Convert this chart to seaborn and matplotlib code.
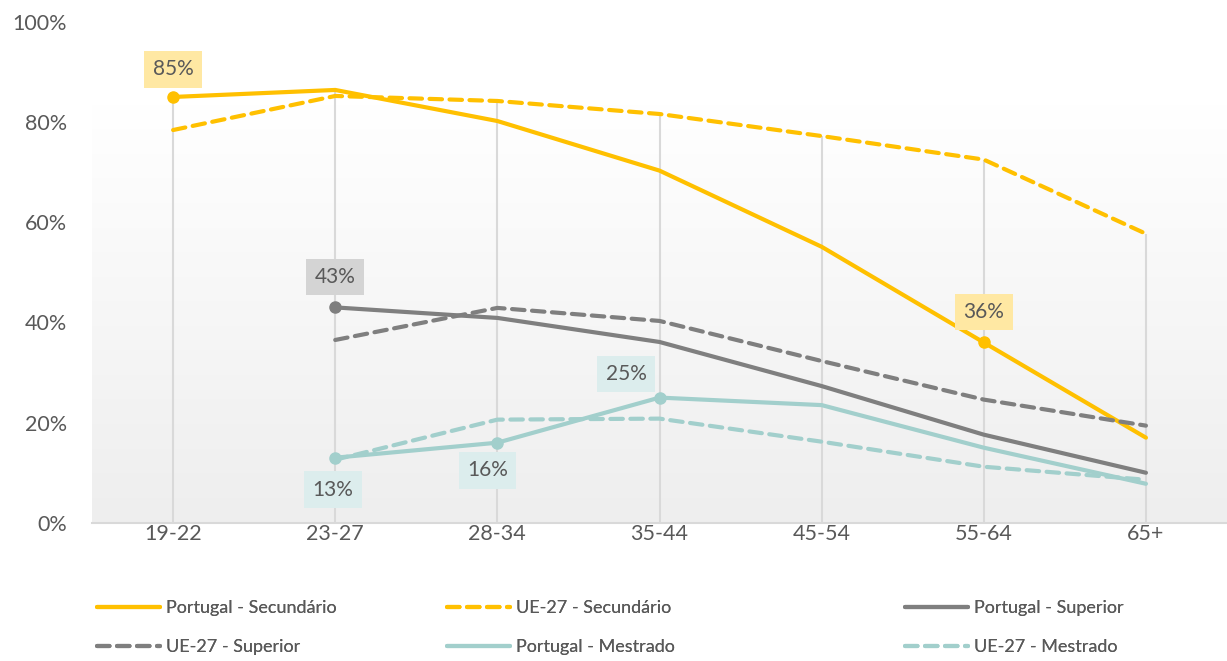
import numpy as np
import pandas as pd
import matplotlib
matplotlib.use("Agg")
import matplotlib.pyplot as plt
import seaborn as sns

# Dados
faixas = ['19-22', '23-27', '28-34', '35-44', '45-54', '55-64', '65+']
pt_secundario = [85, 86.4, 80.2, 70.3, 55.1, 36, 17.0]
ue_secundario = [78.4, 85.2, 84.2, 81.6, 77.2, 72.5, 57.7]
pt_superior = [np.nan, 43, 40.9, 36.1, 27.3, 17.6, 10.0]
ue_superior = [np.nan, 36.5, 42.9, 40.3, 32.3, 24.6, 19.4]
pt_mestrado = [np.nan, 13, 16, 25, 23.5, 15.0, 7.8]
ue_mestrado = [np.nan, 12.6, 20.6, 20.8, 16.2, 11.2, 8.6]

amarelo = '#FFC000'
cinza = '#7F7F7F'
verde = '#A2CFCC'

series = [
    ('Portugal - Secundário', pt_secundario, amarelo, '-'),
    ('UE-27 - Secundário', ue_secundario, amarelo, '--'),
    ('Portugal - Superior', pt_superior, cinza, '-'),
    ('UE-27 - Superior', ue_superior, cinza, '--'),
    ('Portugal - Mestrado', pt_mestrado, verde, '-'),
    ('UE-27 - Mestrado', ue_mestrado, verde, '--'),
]

# etiquetas: (serie, indice, deslocamento x, deslocamento y em pontos, cor da caixa)
etiquetas = [
    (pt_secundario, 0, 0, 20, '#FFE8A3'),
    (pt_superior, 1, 0, 22, '#D4D4D4'),
    (pt_secundario, 5, 0, 22, '#FFE8A3'),
    (pt_mestrado, 3, -24, 17, '#DCEDED'),
    (pt_mestrado, 2, -7, -20, '#DCEDED'),
    (pt_mestrado, 1, -1.5, -23, '#DCEDED'),
]

sns.set_style('white')
plt.rcParams['font.family'] = ['Lato', 'DejaVu Sans']

fig = plt.figure(figsize=(12.27, 6.61), dpi=100)
ax = fig.add_axes([0.075, 0.209, 0.925, 0.758])

x = np.arange(len(faixas))

# fundo com gradiente
grad = np.linspace(1, 0, 256).reshape(-1, 1)
ax.imshow(grad, extent=(0, 1, 0, 0.835), transform=ax.transAxes,
          cmap=matplotlib.colors.LinearSegmentedColormap.from_list('g', ['#EEEEEE', '#FFFFFF']),
          aspect='auto', zorder=0)

# linhas verticais ate ao maximo de cada categoria
tabela = pd.DataFrame({nome: vals for nome, vals, _, _ in series}, index=faixas)
ax.vlines(x, 0, tabela.max(axis=1).values, color='#D9D9D9', lw=1.5, zorder=1)

for nome, vals, cor, estilo in series:
    df = pd.DataFrame({'x': x, 'y': vals}).dropna()
    sns.lineplot(data=df, x='x', y='y', ax=ax, color=cor, lw=3,
                 label=nome, zorder=3, legend=False)
    ax.lines[-1].set_linestyle(estilo)
    ax.lines[-1].set_label(nome)
    if estilo == '--':
        ax.lines[-1].set_dashes((3, 1.8))
        ax.lines[-1].set_dash_capstyle('round')

handles, labels = ax.get_legend_handles_labels()

for vals, i, dx, dy, cor_caixa in etiquetas:
    cor_linha = amarelo if vals is pt_secundario else (cinza if vals is pt_superior else verde)
    ax.plot(x[i], vals[i], 'o', color=cor_linha, ms=8, zorder=4)
    ax.annotate(f'{vals[i]:.0f}%', (x[i], vals[i]), xytext=(dx, dy),
                textcoords='offset points', ha='center', va='center',
                fontsize=15, color='#595959', zorder=5,
                bbox=dict(boxstyle='square,pad=0.4', fc=cor_caixa, ec='none'))

ax.set_xlim(-0.5, 6.5)
ax.set_ylim(0, 100)
ax.set_xticks(x)
ax.set_xticklabels(faixas)
ax.set_yticks(range(0, 101, 20))
ax.set_yticklabels([f'{v}%' for v in range(0, 101, 20)])
ax.tick_params(axis='both', length=0, labelsize=15.5, colors='#595959')
ax.tick_params(axis='x', pad=0.5)
ax.tick_params(axis='y', pad=18)
ax.set_xlabel('')
ax.set_ylabel('')
for lado in ['top', 'right', 'left']:
    ax.spines[lado].set_visible(False)
ax.spines['bottom'].set_color('#D9D9D9')
ax.spines['bottom'].set_linewidth(1.5)

# legenda em grelha 3x2 (uma legenda por coluna)
colunas = [(97, [0, 3]), (447, [1, 4]), (905, [2, 5])]
for xc, idx in colunas:
    leg = fig.legend([handles[i] for i in idx], [labels[i] for i in idx],
                     loc='center left', bbox_to_anchor=(xc / 1227, 1 - 627.5 / 661),
                     frameon=False, fontsize=13, handlelength=3.5, handletextpad=0.3,
                     labelspacing=1.27, labelcolor='#595959',
                     borderpad=0, borderaxespad=0)
    fig.add_artist(leg)

fig.savefig('out.png', dpi=100)
